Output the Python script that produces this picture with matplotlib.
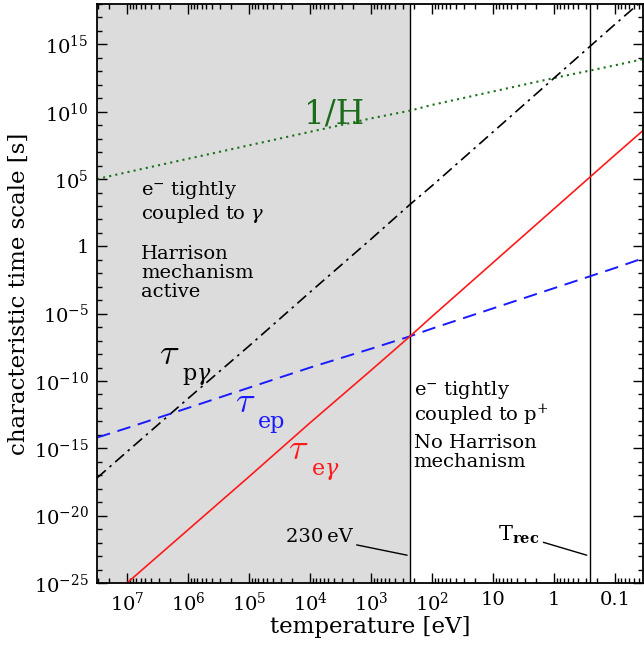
import numpy as np
import matplotlib
matplotlib.use("Agg")
import matplotlib.pyplot as plt
from matplotlib.ticker import FixedLocator, FixedFormatter, LogLocator, NullFormatter

temperature = [3.1e7, 1e7, 1e6, 1e5, 1e4, 1e3, 230, 1e2, 10, 1, 0.1, 0.035]

# characteristic time scales [s]
hubble_time = [1e5, 3.2e5, 3.2e6, 3.2e7, 3.2e8, 3.2e9, 1.2e10, 3.2e10, 3.2e11, 3.2e12, 2.8e13, 8e13]
tau_pgamma = [6.3e-18, 5.6e-16, 5e-12, 4e-8, 4e-4, 3.5, 1.3e3, 3.2e4, 3.2e8, 3.2e12, 3.2e16, 2e18]
tau_ep = [6.3e-15, 3.2e-14, 1e-12, 3.2e-11, 1e-9, 2.5e-8, 2.1e-7, 7.9e-7, 2.5e-5, 7.9e-4, 2.5e-2, 1.3e-1]
tau_egamma = [1e-27, 1e-25, 8.9e-22, 7.9e-18, 7.9e-14, 6.3e-10, 2.1e-7, 6.3e-6, 6.3e-2, 6.3e2, 6.3e6, 4e8]

# special temperatures [eV]
T_decouple = 230
T_rec = 0.26

x_ticks = [1e7, 1e6, 1e5, 1e4, 1e3, 1e2, 10, 1, 0.1]
x_ticklabels = [r"$10^{7}$", r"$10^{6}$", r"$10^{5}$", r"$10^{4}$", r"$10^{3}$",
                r"$10^{2}$", "10", "1", "0.1"]
y_ticks = [1e-25, 1e-20, 1e-15, 1e-10, 1e-5, 1, 1e5, 1e10, 1e15]
y_ticklabels = [r"$10^{-25}$", r"$10^{-20}$", r"$10^{-15}$", r"$10^{-10}$", r"$10^{-5}$",
                "1", r"$10^{5}$", r"$10^{10}$", r"$10^{15}$"]

plt.rcParams["font.family"] = "DejaVu Serif"
plt.rcParams["mathtext.fontset"] = "dejavuserif"

fig = plt.figure(figsize=(6.44, 6.45), dpi=100)
ax = fig.add_axes([97 / 644, 62 / 645, 546 / 644, 579 / 645])

ax.set_xscale("log")
ax.set_yscale("log")
ax.set_xlim(3.1e7, 0.035)
ax.set_ylim(1e-25, 1e18)

# tightly coupled region
ax.axvspan(3.1e7, T_decouple, color="#dcdcdc", lw=0, zorder=0)
ax.axvline(T_decouple, color="black", lw=1.0, zorder=1)
ax.axvline(T_rec, color="black", lw=1.0, zorder=1)

ax.plot(temperature, hubble_time, color="#1b701b", lw=1.5, ls=(0, (1, 2)))
ax.plot(temperature, tau_pgamma, color="black", lw=1.2, ls=(0, (7, 3, 1.5, 3)))
ax.plot(temperature, tau_ep, color="#1a1aff", lw=1.4, ls=(0, (7, 4)))
ax.plot(temperature, tau_egamma, color="#ff1a1a", lw=1.2)

ax.xaxis.set_major_locator(FixedLocator(x_ticks))
ax.xaxis.set_major_formatter(FixedFormatter(x_ticklabels))
ax.xaxis.set_minor_locator(LogLocator(base=10, subs=np.arange(2, 10), numticks=50))
ax.xaxis.set_minor_formatter(NullFormatter())
ax.yaxis.set_major_locator(FixedLocator(y_ticks))
ax.yaxis.set_major_formatter(FixedFormatter(y_ticklabels))
ax.yaxis.set_minor_locator(LogLocator(base=10, subs=[1.0], numticks=100))
ax.yaxis.set_minor_formatter(NullFormatter())

ax.tick_params(which="both", direction="in", top=True, right=True, width=1.0)
ax.tick_params(which="major", length=7, labelsize=14, pad=6)
ax.tick_params(which="minor", length=3.5)
for s in ax.spines.values():
    s.set_linewidth(1.3)

ax.set_xlabel("temperature [eV]", fontsize=16.5, labelpad=1)
ax.set_ylabel("characteristic time scale [s]", fontsize=16.5, labelpad=3)

tr = ax.transAxes
ax.text(0.38, 0.81, "1/H", color="#1b6b1b", fontsize=23.5, transform=tr, ha="left", va="center")

# tau labels: symbol and subscript placed separately for wider spacing
tau_labels = [("p$\\gamma$", "black", 0.114, 0.396),
              ("ep", "#1a1aff", 0.252, 0.312),
              ("e$\\gamma$", "#ff1a1a", 0.350, 0.232)]
for sub, col, xf, yf in tau_labels:
    ax.text(xf, yf, r"$\tau$", color=col, fontsize=26, transform=tr,
            ha="left", va="center", math_fontfamily="cm")
    ax.text(xf + 0.042, yf - 0.045, sub, color=col, fontsize=16, transform=tr,
            ha="left", va="baseline")

ax.text(0.081, 0.697, "e$^{-}$ tightly\ncoupled to $\\gamma$", fontsize=14,
        transform=tr, ha="left", va="top", linespacing=1.07)
ax.text(0.081, 0.584, "Harrison\nmechanism\nactive", fontsize=14,
        transform=tr, ha="left", va="top", linespacing=1.07)
ax.text(0.58, 0.352, "e$^{-}$ tightly\ncoupled to p$^{+}$", fontsize=14,
        transform=tr, ha="left", va="top", linespacing=1.07)
ax.text(0.58, 0.257, "No Harrison\nmechanism", fontsize=14,
        transform=tr, ha="left", va="top", linespacing=1.07)

ax.annotate("230\u2009eV", xy=(0.568, 0.048), xytext=(0.468, 0.079), xycoords=tr, textcoords=tr,
            fontsize=14, ha="right", va="center",
            arrowprops=dict(arrowstyle="-", lw=1.0, color="black", shrinkA=1, shrinkB=0))
ax.annotate(r"T$_{\bf rec}$", xy=(0.897, 0.048), xytext=(0.81, 0.083), xycoords=tr, textcoords=tr,
            fontsize=15, ha="right", va="center",
            arrowprops=dict(arrowstyle="-", lw=1.0, color="black", shrinkA=1, shrinkB=0))

fig.savefig("out.png", dpi=100)
